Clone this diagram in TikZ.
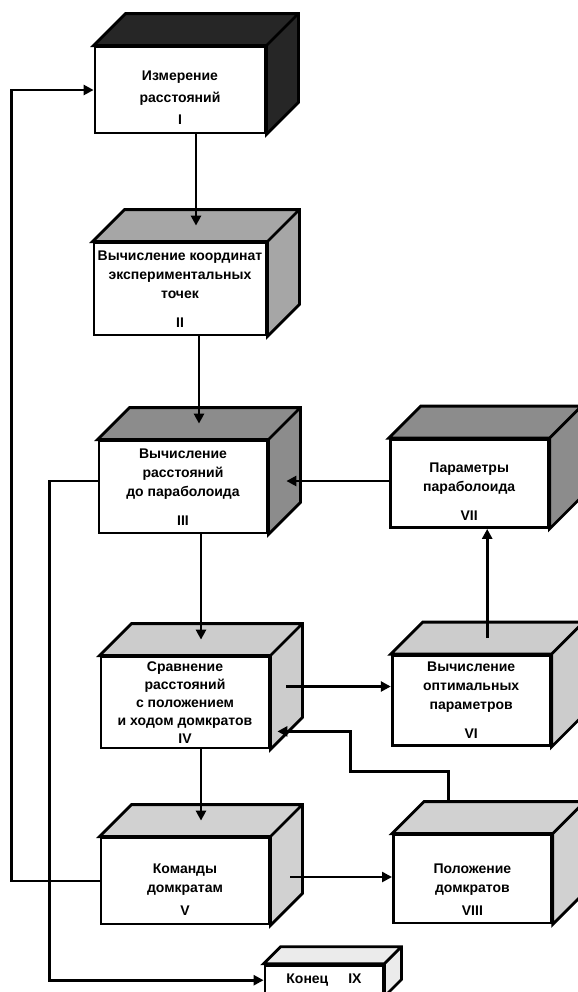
\documentclass[tikz,border=0pt]{standalone}
\usepackage{fontspec}
\setsansfont{Liberation Sans}
\usetikzlibrary{arrows.meta, positioning}

\begin{document}
\begin{tikzpicture}[
    cube/.style 2 args={draw, line width=1.4pt, fill=white, align=center, inner sep=1pt,
        font=\sffamily\bfseries\fontsize{7pt}{9.5pt}\selectfont,
        append after command={\pgfextra{
            \let\cubenode\tikzlastnode
            \draw[line width=1.4pt, fill=#1] (\cubenode.north west) -- ++(#2,#2)
                -- ([shift={(#2,#2)}]\cubenode.north east) -- ([shift={(#2,#2)}]\cubenode.south east)
                -- (\cubenode.south east) -- (\cubenode.north east) -- cycle
                (\cubenode.north east) -- ++(#2,#2);
            \coordinate (\cubenode-top) at ([shift={(0.5*#2,0.5*#2)}]\cubenode.north);
        }}},
    leftbox/.style={cube={#1}{16pt}, minimum width=84pt, minimum height=46pt},
    rightbox/.style={cube={#1}{16pt}, minimum width=79pt, minimum height=44pt},
    line/.style={draw, -{Triangle[length=5pt, width=5pt]}, line width=1.4pt}
]
    \useasboundingbox (0,0) rectangle (289pt,-496pt);

    % Main column
    \node (meas) [leftbox=black!85, minimum width=85pt, minimum height=43pt] at (90pt,-45pt) {\rule{0pt}{12pt}Измерение\\[1.5pt]расстояний\\[1.5pt]I};
    \node (coord) [leftbox=black!35, minimum width=86pt, below=53.6pt of meas] {Вычисление координат\\экспериментальных\\точек\\[5pt]II};
    \node (dist) [leftbox=black!45, below=51.6pt of coord, xshift=1.5pt] {Вычисление\\расстояний\\до параболоида\\[5pt]III};
    \node (comp) [leftbox=black!20, minimum height=45.5pt, font=\sffamily\bfseries\fontsize{7pt}{9pt}\selectfont, below=60.6pt of dist, xshift=1pt] {Сравнение\\расстояний\\с положением\\и ходом домкратов\\IV};
    \node (cmd) [leftbox=black!18, minimum height=43pt, below=43.6pt of comp] {\rule{0pt}{13pt}Команды\\домкратам\\[2pt]V};

    % Right column
    \node (param) [rightbox=black!45, right=60.2pt of dist, yshift=1.75pt] {\rule{0pt}{13pt}Параметры\\параболоида\\[5pt]VII};
    \node (optim) [rightbox=black!20, minimum height=45pt, right=60.2pt of comp, yshift=1pt] {Вычисление\\оптимальных\\параметров\\[5pt]VI};
    \node (jack) [rightbox=black!18, right=60.8pt of cmd, yshift=1pt] {\rule{0pt}{15pt}Положение\\домкратов\\[2pt]VIII};

    % End
    \node (stop) [cube={black!8}{8.5pt}, minimum width=59pt, minimum height=15pt, below right=19.2pt and -3.4pt of cmd] {Конец\hspace{10pt}IX};

    % Entry points
    \coordinate (compout) at ([shift={(8pt,8pt)}]comp.east);
    \coordinate (compin) at ([shift={(3.5pt,9pt)}]comp.south east);
    \coordinate (distin) at ([shift={(9pt,3pt)}]dist.east);
    \coordinate (cmdout) at ([shift={(10pt,2pt)}]cmd.east);

    % Connectors
    \draw [line] (meas.south -| coord-top) -- (coord-top);
    \draw [line] (coord.south -| dist-top) -- (dist-top);
    \draw [line] (dist.south -| comp-top) -- (comp-top);
    \draw [line] (comp.south -| cmd-top) -- (cmd-top);

    \draw [line] (compout) -- (compout -| optim.west);
    \draw [line] (optim-top) -- (optim-top |- param.south);
    \draw [line] (distin -| param.west) -- (distin);

    \draw [line] (cmdout) -- (cmdout -| jack.west);
    \draw [line] ([shift={(-12pt,16pt)}]jack.north) -- ++(0,15pt) -| ([xshift=36.5pt]compin) -- (compin);

    \draw [line] (cmd.west) -- ++(-44pt,0) |- (meas.west);
    \draw [line] ([yshift=3pt]dist.west) -- ++(-24pt,0) |- (stop.west);

\end{tikzpicture}
\end{document}
